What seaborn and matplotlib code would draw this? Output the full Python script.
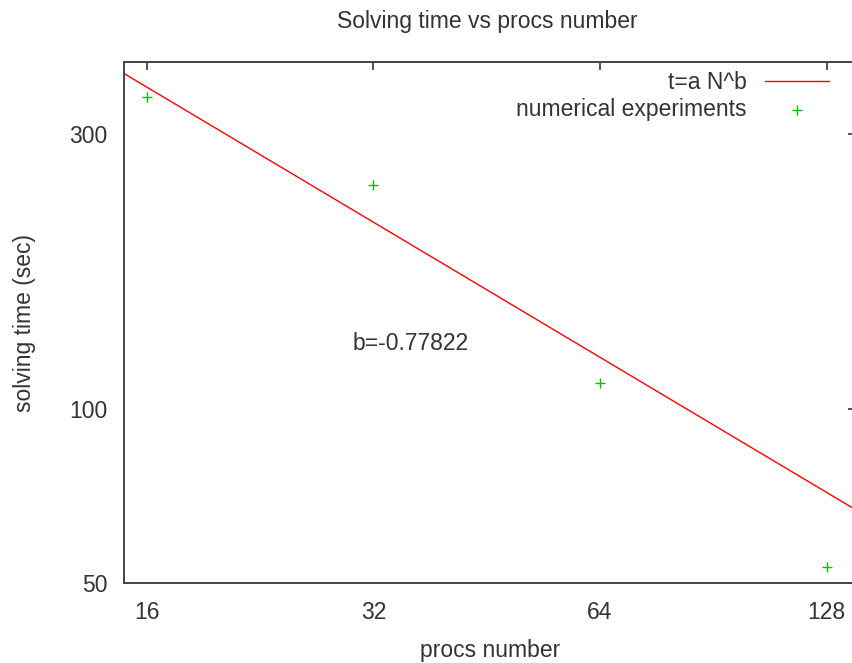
import numpy as np
import pandas as pd
import matplotlib
matplotlib.use("Agg")
import matplotlib.pyplot as plt
import seaborn as sns

# measured solving times
procs = [16, 32, 64, 128]
times = [348, 245, 111, 53.3]

# fitted power law t = a N^b
fit_a = 3132.0
fit_b = -0.77822

x_ticks = [16, 32, 64, 128]
y_ticks = [50, 100, 300]

sns.set_theme(style="white")
plt.rcParams['font.family'] = ['Liberation Sans', 'DejaVu Sans']
text_col = '#333333'
fs = 16.5

fig = plt.figure(figsize=(8.53, 6.63), dpi=100)
ax = fig.add_axes([124 / 853, 80 / 663, 732 / 853, 521 / 663])

n_grid = np.geomspace(14.9, 140, 200)
fit_df = pd.DataFrame({'N': n_grid, 't': fit_a * n_grid ** fit_b})
exp_df = pd.DataFrame({'N': procs, 't': times})

sns.lineplot(data=fit_df, x='N', y='t', ax=ax, color='#ff0000', linewidth=1.0,
             label='t=a N^b')
sns.scatterplot(data=exp_df, x='N', y='t', ax=ax, marker='+', color='#00c000',
                s=60, linewidth=1.0, label='numerical experiments')

ax.set_xscale('log', base=2)
ax.set_yscale('log')
ax.set_xlim(14.93, 140)
ax.set_ylim(50, 400)
ax.set_xticks(x_ticks)
ax.set_xticklabels([str(v) for v in x_ticks])
ax.set_yticks(y_ticks)
ax.set_yticklabels([str(v) for v in y_ticks])
ax.minorticks_off()
ax.tick_params(direction='in', length=6, width=1.2, color='#333333',
               top=True, right=True, labelsize=fs, labelcolor=text_col)
ax.tick_params(axis='x', pad=13)
ax.tick_params(axis='y', pad=12)
for sp in ax.spines.values():
    sp.set_color('#444444')
    sp.set_linewidth(1.4)

ax.set_xlabel('procs number', fontsize=fs, color=text_col, labelpad=11)
ax.set_ylabel('solving time (sec)', fontsize=fs, color=text_col, labelpad=24)
fig.suptitle('Solving time vs procs number', fontsize=fs, color=text_col,
             x=487 / 853, y=1 - 10 / 663, va='top')

ax.text(30, 130, 'b=-0.77822', fontsize=fs, color=text_col, va='center', ha='left')

ax.legend(loc='upper right', bbox_to_anchor=(1 - 2 / 732, 1 + 16 / 521),
          frameon=False, markerfirst=False, fontsize=fs,
          handlelength=2.77, handletextpad=0.81, labelspacing=0.18,
          borderaxespad=0.9, borderpad=0.2, labelcolor=text_col)

fig.savefig('out.png', dpi=100)
